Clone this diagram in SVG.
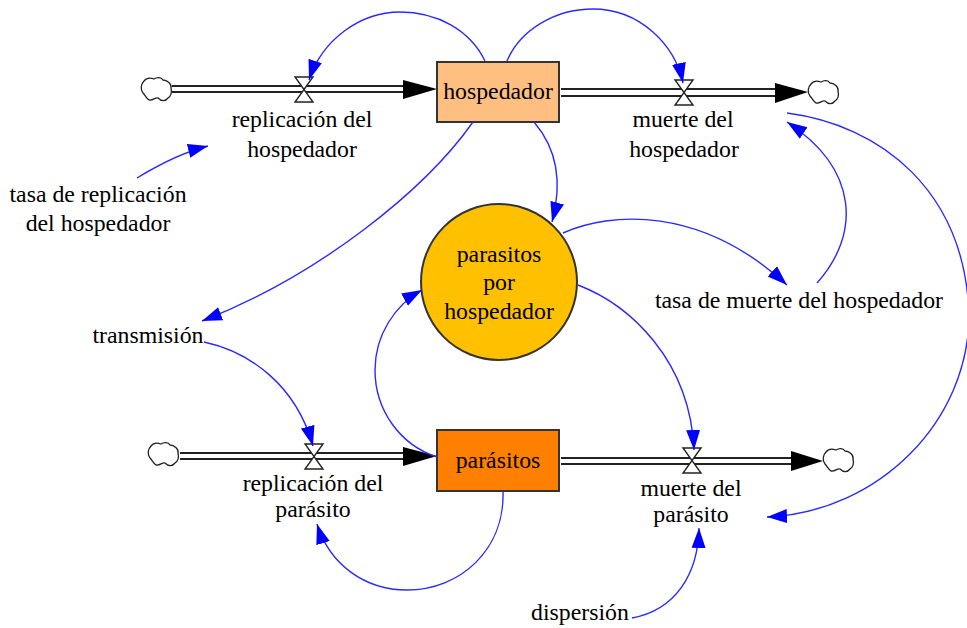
<svg xmlns="http://www.w3.org/2000/svg" width="967" height="628" viewBox="0 0 967 628">
<style>
text{font-family:"Liberation Serif","Times New Roman",serif;font-size:23.8px;fill:#000;text-anchor:middle}
.l{fill:none;stroke:#2a2aff;stroke-width:1.4}
.f{fill:none;stroke:#222;stroke-width:2}
.v{fill:#fff;stroke:#222;stroke-width:1.4}
.c{fill:#fff;stroke:#222;stroke-width:1.3}
.box{stroke:#333;stroke-width:2}
</style>
<defs>
<marker id="a" markerUnits="userSpaceOnUse" markerWidth="21" markerHeight="16" refX="20" refY="8" orient="auto"><path d="M0 1L20 8L0 15z" fill="#0000ff"/></marker>
<symbol id="cloud" overflow="visible"><path class="c" d="M3 4C6 0 10 1 13 2C16 0 20 0 22 3C26 3 31 7 30 11C31 15 30 19 27 21C24 25 20 24 17 21C14 20 12 24 8 23C5 21 4 18 2 16C-1 12 0 7 3 4z"/></symbol>
<symbol id="valve" overflow="visible"><path class="v" d="M-9 0H9L-9 25H9z"/></symbol>
</defs>
<g id="connectors">
<g id="flows">
<path class="f" d="M172 86H405M172 92H405"/><path d="M403 80L437 89L403 99z"/>
<path class="f" d="M561 89H777M561 96H777"/><path d="M775 83L808 92L775 103z"/>
<path class="f" d="M180 453H405M180 459H405"/><path d="M403 447L437 456L403 466z"/>
<path class="f" d="M561 458H793M561 464H793"/><path d="M791 451L823 461L791 471z"/>
</g>
</g>
<g id="hospedador"><rect class="box" x="437" y="62" width="122" height="60" fill="#ffbf80"/><text x="498" y="99">hospedador</text></g>
<g id="parasitos"><rect class="box" x="437" y="430" width="122" height="61" fill="#ff8000"/><text x="498" y="468">parásitos</text></g>
<g id="parasitos-por-hospedador"><circle cx="499" cy="282" r="78" fill="#ffc000" stroke="#333" stroke-width="2"/><text x="499" y="262">parasitos</text><text x="499" y="290">por</text><text x="499" y="319">hospedador</text></g>
<g id="replicacion-hospedador"><use href="#valve" x="304" y="77"/><text x="302" y="127">replicación del</text><text x="302" y="157">hospedador</text></g>
<g id="muerte-hospedador"><use href="#valve" x="684" y="80"/><text x="683" y="127">muerte del</text><text x="684" y="157">hospedador</text></g>
<g id="replicacion-parasito"><use href="#valve" x="314" y="444"/><text x="313" y="491">replicación del</text><text x="313" y="517">parásito</text></g>
<g id="muerte-parasito"><use href="#valve" x="692" y="448"/><text x="691" y="496">muerte del</text><text x="691" y="522">parásito</text></g>
<g id="nube-1"><use href="#cloud" x="141" y="77"/></g>
<g id="nube-2"><use href="#cloud" x="808" y="80"/></g>
<g id="nube-3"><use href="#cloud" x="148" y="442"/></g>
<g id="nube-4"><use href="#cloud" x="823" y="448"/></g>
<g id="tasa-replicacion"><text x="98" y="202">tasa de replicación</text><text x="98" y="231">del hospedador</text></g>
<g id="transmision"><text x="148" y="343">transmisión</text></g>
<g id="tasa-muerte"><text x="799" y="308">tasa de muerte del hospedador</text></g>
<g id="dispersion"><text x="580" y="620">dispersión</text></g>
<g id="links">
<path class="l" marker-end="url(#a)" d="M485 61C470 30 437 12 400 12C360 12 322 40 309 80"/>
<path class="l" marker-end="url(#a)" d="M507 61C520 30 555 9 593 9C640 9 675 45 683 83"/>
<path class="l" marker-end="url(#a)" d="M534 122C558 150 562 185 552 222"/>
<path class="l" marker-end="url(#a)" d="M473 122C425 190 320 275 202 321"/>
<path class="l" marker-end="url(#a)" d="M137 178C155 167 180 153 208 146"/>
<path class="l" marker-end="url(#a)" d="M204 342C250 352 296 385 313 446"/>
<path class="l" marker-end="url(#a)" d="M563 233C610 212 700 205 787 285"/>
<path class="l" marker-end="url(#a)" d="M578 285C630 305 690 360 694 450"/>
<path class="l" marker-end="url(#a)" d="M817 283C860 235 860 170 787 122"/>
<path class="l" marker-end="url(#a)" d="M787 113C880 125 965 190 969 315C969 420 880 512 767 517"/>
<path class="l" marker-end="url(#a)" d="M437 457C400 445 375 410 375 370C375 335 395 305 422 290"/>
<path class="l" marker-end="url(#a)" d="M503 491C505 550 460 590 407 590C365 590 330 565 317 524"/>
<path class="l" marker-end="url(#a)" d="M632 618C675 610 698 575 699 528"/>
</g>
</svg>
